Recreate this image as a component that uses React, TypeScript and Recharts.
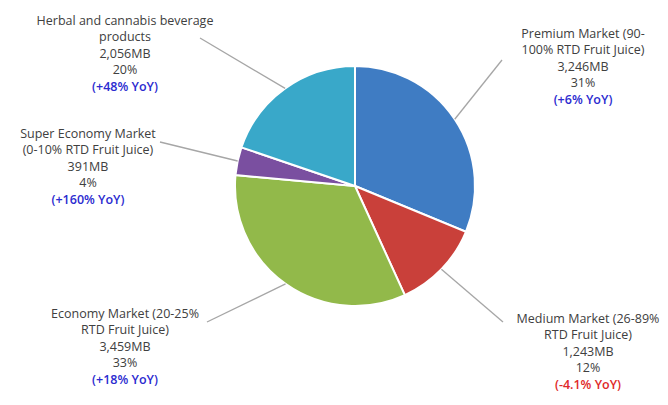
import { Cell, Pie, PieChart } from 'recharts';

const categories = [
  'Premium Market',
  'Medium Market',
  'Economy Market',
  'Super Economy Market',
  'Herbal',
];

const nameLines = [
  ['Premium Market (90-', '100% RTD Fruit Juice)'],
  ['Medium Market (26-89%', 'RTD Fruit Juice)'],
  ['Economy Market (20-25%', 'RTD Fruit Juice)'],
  ['Super Economy Market', '(0-10% RTD Fruit Juice)'],
  ['Herbal and cannabis beverage', 'products'],
];

const valuesMB = [3246, 1243, 3459, 391, 2056];
const shares = ['31%', '12%', '33%', '4%', '20%'];
const yoy = ['(+6% YoY)', '(-4.1% YoY)', '(+18% YoY)', '(+160% YoY)', '(+48% YoY)'];

const COLORS = ['#3F7CC3', '#C9403A', '#92B94A', '#7A4FA0', '#39A8C9'];

// label placement relative to pie centre: text block centre/top, leader line end
const LABEL_LAYOUT: Record<string, { tx: number; ty: number; lx: number; ly: number }> = {
  'Premium Market': { tx: 228, ty: -153, lx: 147, ly: -126 },
  'Medium Market': { tx: 233, ty: 132, lx: 148, ly: 136 },
  'Economy Market': { tx: -230, ty: 127, lx: -148, ly: 136 },
  'Super Economy Market': { tx: -267, ty: -53, lx: -195, ly: -44 },
  Herbal: { tx: -230, ty: -166, lx: -155, ly: -148 },
};

const data = categories.map((name, i) => ({
  name,
  value: valuesMB[i],
  lines: nameLines[i],
  share: shares[i],
  yoy: yoy[i],
}));

const RAD = Math.PI / 180;
const LINE_H = 16.5;

function renderLabel(props: any) {
  const { cx, cy, midAngle, outerRadius, payload, index } = props;
  const d = data[index] ?? payload;
  const layout = LABEL_LAYOUT[d.name];
  const sx = cx + outerRadius * Math.cos(-midAngle * RAD);
  const sy = cy + outerRadius * Math.sin(-midAngle * RAD);
  const ex = cx + layout.lx;
  const ey = cy + layout.ly;
  const tx = cx + layout.tx;
  const ty = cy + layout.ty + 4.5;
  const neg = d.yoy.startsWith('(-');
  return (
    <g key={`lbl-${d.name}`}>
      <line x1={sx} y1={sy} x2={ex} y2={ey} stroke="#A6A6A6" strokeWidth={1.3} />
      <text
        x={tx}
        y={ty}
        textAnchor="middle"
        fontFamily="'Open Sans', sans-serif"
        fontSize={12.5}
        fill="#404040"
      >
        <tspan x={tx} dy={0}>{d.lines[0]}</tspan>
        <tspan x={tx} dy={LINE_H}>{d.lines[1]}</tspan>
        <tspan x={tx} dy={LINE_H}>{`${d.value.toLocaleString('en-US')}MB`}</tspan>
        <tspan x={tx} dy={LINE_H}>{d.share}</tspan>
        <tspan x={tx} dy={LINE_H} fill={neg ? '#E02828' : '#2B2BD0'} fontWeight={600}>
          {d.yoy}
        </tspan>
      </text>
    </g>
  );
}

export default function App() {
  return (
    <div style={{ position: 'fixed', left: 0, top: 0, width: 668, height: 405, background: '#fff' }}>
      <PieChart width={668} height={405} margin={{ top: 0, right: 0, bottom: 0, left: 0 }}>
        <Pie
          data={data}
          dataKey="value"
          nameKey="name"
          cx={355}
          cy={186}
          outerRadius={120}
          startAngle={90}
          endAngle={-270}
          stroke="#FFFFFF"
          strokeWidth={2}
          label={renderLabel}
          labelLine={false}
          isAnimationActive={false}
        >
          {data.map((d, i) => (
            <Cell key={d.name} fill={COLORS[i]} />
          ))}
        </Pie>
      </PieChart>
    </div>
  );
}
